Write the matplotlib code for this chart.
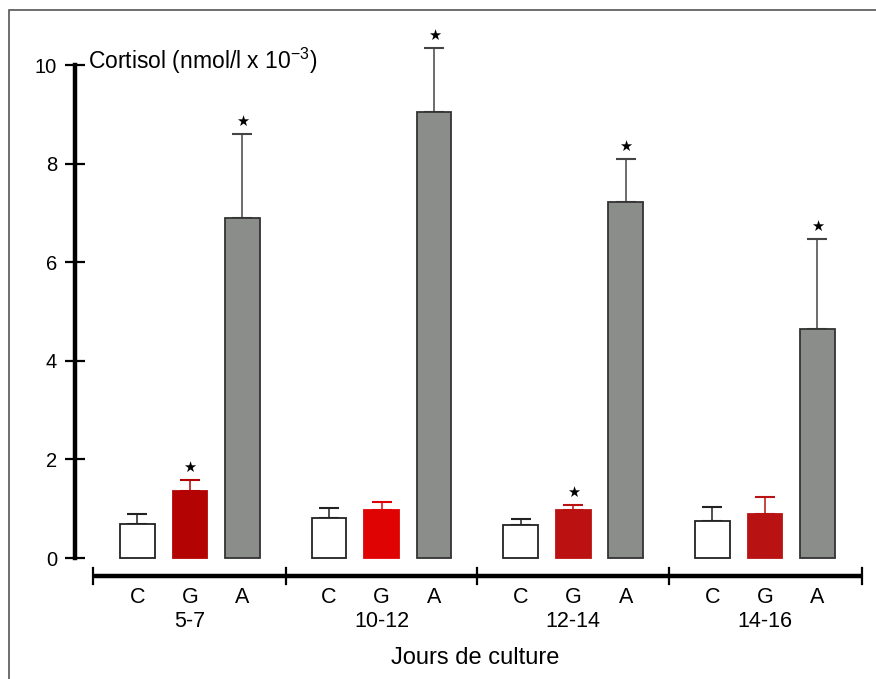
import numpy as np
import matplotlib.pyplot as plt
from matplotlib.patches import Rectangle

plt.rcParams['font.family'] = ['Liberation Sans', 'DejaVu Sans']

# data (cortisol, nmol/l x 10^-3)
periods = ["5-7", "10-12", "12-14", "14-16"]
treatments = ["C", "G", "A"]

c_mean = [0.69, 0.81, 0.67, 0.75]
c_err = [0.20, 0.20, 0.12, 0.28]
g_mean = [1.36, 0.97, 0.97, 0.89]
g_err = [0.22, 0.17, 0.11, 0.35]
a_mean = [6.90, 9.05, 7.22, 4.64]
a_err = [1.70, 1.30, 0.87, 1.83]

# significance stars (True = *)
c_star = [False, False, False, False]
g_star = [True, False, True, False]
a_star = [True, True, True, True]

g_colors = ["#b30303", "#e00303", "#bb1111", "#b81212"]

fig = plt.figure(figsize=(8.76, 6.79), dpi=100)
ax = fig.add_axes([0.0856, 0.1056, 0.9075, 0.842])

group_gap = 3.65
centers = np.arange(len(periods)) * group_gap
width = 0.66

series = [
    (c_mean, c_err, c_star, ["white"] * 4, "#222222", "#222222"),
    (g_mean, g_err, g_star, g_colors, None, None),
    (a_mean, a_err, a_star, ["#8b8d8a"] * 4, "#333333", "#444444"),
]

for k, (means, errs, stars, fills, edge, ecol) in enumerate(series):
    xs = centers + (k - 1)
    for i in range(len(periods)):
        e = edge if edge else fills[i]
        ec = ecol if ecol else fills[i]
        ax.bar(xs[i], means[i], width=width, color=fills[i], edgecolor=e,
               linewidth=1.3, zorder=2)
        ax.errorbar(xs[i], means[i], yerr=[[0], [errs[i]]], fmt="none",
                    ecolor=ec, elinewidth=1.1, capsize=7, capthick=1.5, zorder=1)
        if stars[i]:
            ax.text(xs[i], means[i] + errs[i] + 0.1, "★", ha="center",
                    va="bottom", fontsize=10.5, color="black",
                    family=["DejaVu Sans"])

ax.set_xlim(-2.19, 12.95)
ax.set_ylim(-1.0, 10.6)

for s in ["top", "right", "bottom"]:
    ax.spines[s].set_visible(False)
ax.spines["left"].set_bounds(0, 10)
ax.spines["left"].set_linewidth(3.2)
ax.set_yticks([0, 2, 4, 6, 8, 10])
ax.tick_params(axis="y", direction="inout", length=14, width=1.6,
               labelsize=14.5, pad=6)
ax.set_xticks([])

# separate x axis bar with group separators
x_axis_y = -0.365
left_end = centers[0] - 1.85
right_end = centers[-1] + 1.85
ax.plot([left_end, right_end], [x_axis_y, x_axis_y], color="black",
        lw=3.2, clip_on=False, solid_capstyle="butt")
seps = [left_end] + list((centers[:-1] + centers[1:]) / 2) + [right_end]
for s in seps:
    ax.plot([s, s], [x_axis_y - 0.17, x_axis_y + 0.17], color="black",
            lw=1.6, clip_on=False)

for i, p in enumerate(periods):
    for k, t in enumerate(treatments):
        ax.text(centers[i] + (k - 1), -0.81, t, ha="center", va="center",
                fontsize=15.5)
    ax.text(centers[i], -1.28, p, ha="center", va="center", fontsize=15.5)

fig.text(0.543, 0.031, "Jours de culture", ha="center", va="center",
         fontsize=17)
fig.text(0.1, 0.898, r"Cortisol (nmol/l x 10$^{\mathregular{-3}}$)",
         ha="left", va="baseline", fontsize=16.5)

# outer frame
fig.patches.append(Rectangle((9 / 876, -0.1), 1.1, 1 - 10 / 679 + 0.1,
                             transform=fig.transFigure, fill=False,
                             edgecolor="#555555", lw=1.2))

fig.savefig("out.png", dpi=100)
